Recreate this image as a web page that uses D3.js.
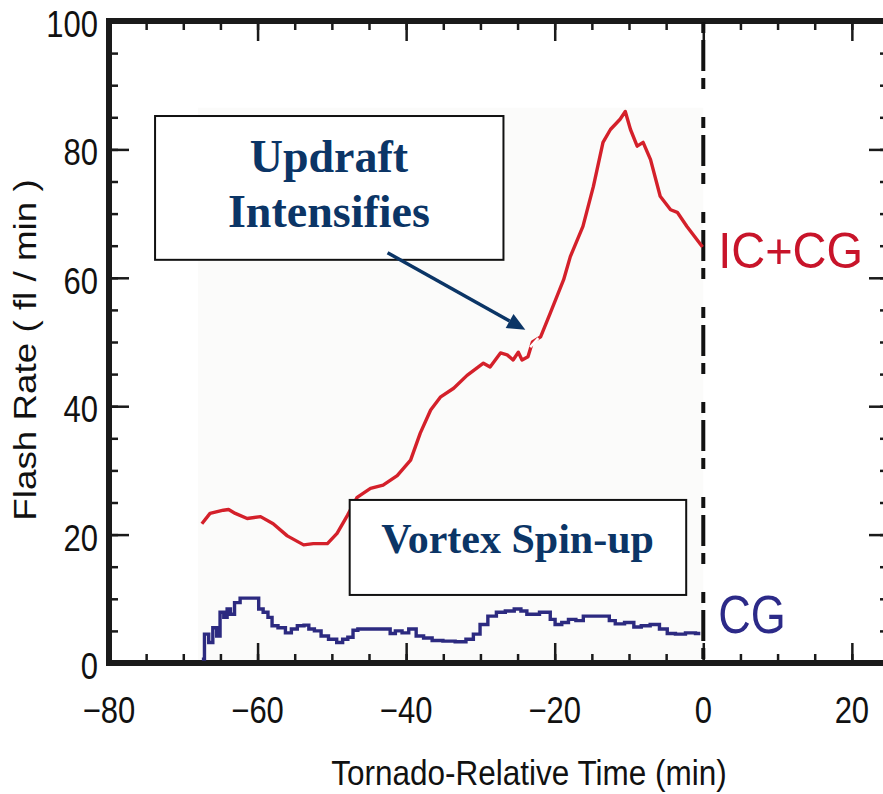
<!DOCTYPE html>
<html>
<head>
<meta charset="utf-8">
<script src="https://cdn.jsdelivr.net/npm/d3@7"></script>
<style>
  body { margin: 0; background: #fff; }
  text { font-family: "Liberation Sans", Arial, sans-serif; }
</style>
</head>
<body>
<script>
// tornado-relative time (min) and flash rates (fl/min)
var tTotal = [-67.5,-66.4,-64.6,-63.9,-63.0,-61.4,-59.6,-57.9,-56.0,-53.8,-52.5,-50.6,-49.3,-47.9,-46.6,-44.8,-43.1,-41.2,-39.4,-38.1,
  -36.7,-35.4,-33.6,-31.8,-29.6,-28.7,-27.3,-26.4,-25.6,-24.9,-24.4,-23.6,-23.0,-21.9,-20.6,-18.8,-17.9,-16.2,-14.8,-13.5,
  -12.5,-11.2,-10.5,-9.8,-8.9,-8.1,-7.1,-5.8,-4.4,-3.5,-2.2,-0.1];
var total = [21.7,23.3,23.8,23.9,23.3,22.5,22.8,21.7,19.8,18.4,18.6,18.6,20.2,23.0,25.8,27.2,27.7,29.2,31.6,35.8,
  39.4,41.4,42.8,44.8,46.7,46.1,48.3,48.0,47.2,48.4,47.2,47.7,50.0,50.8,54.5,59.7,63.3,68.0,74.2,81.1,
  83.1,84.7,85.9,83.1,80.5,81.1,78.4,72.7,70.6,70.2,68.0,64.8];

var tCG = [-67.5,-66.8,-66.35,-65.7,-65.3,-64.8,-64.3,-63.9,-63.4,-62.8,-61.9,-60.1,-59.6,-58.9,-58.3,-57.8,-56.7,-55.8,-55.1,-54.2,
  -53.3,-52.9,-51.8,-51.1,-49.8,-48.9,-48.2,-47.5,-46.8,-46.2,-42.4,-41.9,-41.0,-40.1,-39.2,-38.1,-37.2,-35.8,-34.3,-32.5,
  -31.4,-30.5,-29.6,-28.4,-27.3,-26.0,-24.9,-24.2,-23.3,-20.8,-20.4,-19.5,-18.6,-17.7,-16.6,-15.7,-13.0,-12.3,-11.4,-9.8,
  -8.9,-7.8,-6.5,-5.3,-4.4,-3.1,-1.7,-0.4];
var cg = [0.6,4.5,3.2,5.5,4.2,7.9,7.1,8.4,7.6,9.4,10.1,10.1,8.4,7.9,7.1,5.8,5.5,4.7,5.3,5.8,
  5.9,5.3,5.0,4.2,3.7,3.2,3.7,4.0,5.1,5.3,5.3,4.6,5.0,4.7,5.3,4.2,3.9,3.5,3.4,3.3,
  3.7,4.5,6.0,7.3,7.9,8.1,8.4,8.1,7.6,7.9,6.8,6.0,6.3,6.8,6.6,7.3,7.3,6.6,6.1,6.3,
  5.6,5.8,6.0,5.3,4.6,4.5,4.7,4.6];

var xMajor = [-80, -60, -40, -20, 0, 20];
var yMajor = [0, 20, 40, 60, 80, 100];

var W = 883, H = 794;
var svg = d3.select("body").append("svg").attr("width", W).attr("height", H);

var x = d3.scaleLinear().domain([-80, 25]).range([109, 889]);
var y = d3.scaleLinear().domain([0, 100]).range([663, 21]);

// faint stippled data area
svg.append("rect")
  .attr("x", x(-68)).attr("y", y(86.5))
  .attr("width", x(0) - x(-68)).attr("height", y(0) - y(86.5))
  .attr("fill", "#fbfbfa");

// ticks (inside), minor every 5, major every 20
var minorX = d3.range(-80, 26, 5), minorY = d3.range(0, 101, 5);
function ticks(axis, scale, vals, size, tr) {
  var g = svg.append("g").attr("transform", tr)
    .call(axis(scale).tickValues(vals).tickSize(size).tickSizeOuter(0).tickFormat(""));
  g.select(".domain").remove();
  g.selectAll("line").attr("stroke", "#1a1a1a").attr("stroke-width", 2.5);
}
ticks(d3.axisBottom, x, minorX, -9, "translate(0," + y(0) + ")");
ticks(d3.axisBottom, x, xMajor, -20, "translate(0," + y(0) + ")");
ticks(d3.axisTop, x, minorX, -9, "translate(0," + y(100) + ")");
ticks(d3.axisTop, x, xMajor, -20, "translate(0," + y(100) + ")");
ticks(d3.axisLeft, y, minorY, -9, "translate(" + x(-80) + ",0)");
ticks(d3.axisLeft, y, yMajor, -20, "translate(" + x(-80) + ",0)");
ticks(d3.axisRight, y, minorY, -9, "translate(" + x(25) + ",0)");
ticks(d3.axisRight, y, yMajor, -20, "translate(" + x(25) + ",0)");

// frame
svg.append("rect")
  .attr("x", x(-80)).attr("y", y(100))
  .attr("width", x(25) - x(-80)).attr("height", y(0) - y(100))
  .attr("fill", "none").attr("stroke", "#1a1a1a").attr("stroke-width", 6);

// tick labels (source is stretched vertically)
var fmt = d3.format("d");
xMajor.forEach(function(d) {
  svg.append("text")
    .attr("transform", "translate(" + x(d) + ",723) scale(1,1.17)")
    .attr("text-anchor", "middle").attr("font-size", 31).attr("fill", "#111")
    .text(d < 0 ? "\u2212" + fmt(-d) : fmt(d));
});
yMajor.forEach(function(d) {
  svg.append("text")
    .attr("transform", "translate(" + (x(-80) - 11) + "," + (y(d) + 16) + ") scale(1,1.17)")
    .attr("text-anchor", "end").attr("font-size", 31).attr("fill", "#111")
    .text(fmt(d));
});

// axis titles
svg.append("text")
  .attr("transform", "translate(529,785) scale(1,1.1)")
  .attr("text-anchor", "middle").attr("font-size", 31.5).attr("fill", "#111")
  .text("Tornado-Relative Time (min)");
svg.append("text")
  .attr("transform", "translate(36,350) scale(1,1.15) rotate(-90)")
  .attr("text-anchor", "middle").attr("font-size", 32).attr("fill", "#111")
  .text("Flash Rate ( fl / min )");

// tornado time marker
svg.append("line")
  .attr("x1", x(0)).attr("x2", x(0)).attr("y1", y(100) + 1).attr("y2", y(0))
  .attr("stroke", "#111").attr("stroke-width", 4)
  .attr("stroke-dasharray", "11,7,31,7,11,28");

// series
var line = d3.line().x(function(d) { return x(d[0]); }).y(function(d) { return y(d[1]); });
svg.append("path")
  .datum(d3.zip(tTotal, total))
  .attr("d", line)
  .attr("fill", "none").attr("stroke", "#d4202a").attr("stroke-width", 3.4)
  .attr("stroke-linejoin", "round");
svg.append("path")
  .datum(d3.zip(tCG, cg))
  .attr("d", line.curve(d3.curveStep))
  .attr("fill", "none").attr("stroke", "#2c2a80").attr("stroke-width", 3.4);

// small white break in the red curve under the arrow tip
svg.append("line")
  .attr("x1", x(-23.3)).attr("y1", y(49.2)).attr("x2", x(-22.2)).attr("y2", y(50.6))
  .attr("stroke", "#fff").attr("stroke-width", 2.5);

// series labels
svg.append("text")
  .attr("transform", "translate(" + x(2) + "," + y(61.5) + ") scale(1,1.08)")
  .attr("font-size", 47).attr("fill", "#c8142a").text("IC+CG");
svg.append("text")
  .attr("transform", "translate(" + x(2) + "," + y(4.7) + ") scale(1,1.2)")
  .attr("font-size", 45).attr("fill", "#2c2a88").text("CG");

// annotation boxes
var navy = "#0b3566";
function box(t0, t1, v0, v1) {
  svg.append("rect")
    .attr("x", x(t0)).attr("y", y(v1))
    .attr("width", x(t1) - x(t0)).attr("height", y(v0) - y(v1))
    .attr("fill", "#fff").attr("stroke", "#111").attr("stroke-width", 2);
}
function label(t, v, size, s) {
  svg.append("text")
    .attr("x", x(t)).attr("y", y(v))
    .attr("text-anchor", "middle")
    .style("font-family", "'Liberation Serif', 'Times New Roman', serif")
    .style("font-weight", "bold")
    .attr("font-size", size).attr("fill", navy).text(s);
}
box(-73.8, -26.9, 62.8, 85.2);
label(-50.4, 76.5, 46, "Updraft");
label(-50.4, 67.9, 46, "Intensifies");
box(-47.6, -2.3, 10.6, 25.4);
label(-25.0, 17.1, 42, "Vortex Spin-up");

// arrow
var ax0 = x(-42.5), ay0 = y(63.9), ax1 = x(-23.96), ay1 = y(51.9);
var ang = Math.atan2(ay1 - ay0, ax1 - ax0);
var hl = 18, hw = 8;
var bx = ax1 - hl * Math.cos(ang), by = ay1 - hl * Math.sin(ang);
svg.append("line")
  .attr("x1", ax0).attr("y1", ay0).attr("x2", bx).attr("y2", by)
  .attr("stroke", navy).attr("stroke-width", 3.5);
svg.append("polygon")
  .attr("points", [
    [ax1, ay1],
    [bx + hw * Math.sin(ang), by - hw * Math.cos(ang)],
    [bx - hw * Math.sin(ang), by + hw * Math.cos(ang)]
  ].map(function(p) { return p.join(","); }).join(" "))
  .attr("fill", navy);
</script>
</body>
</html>
